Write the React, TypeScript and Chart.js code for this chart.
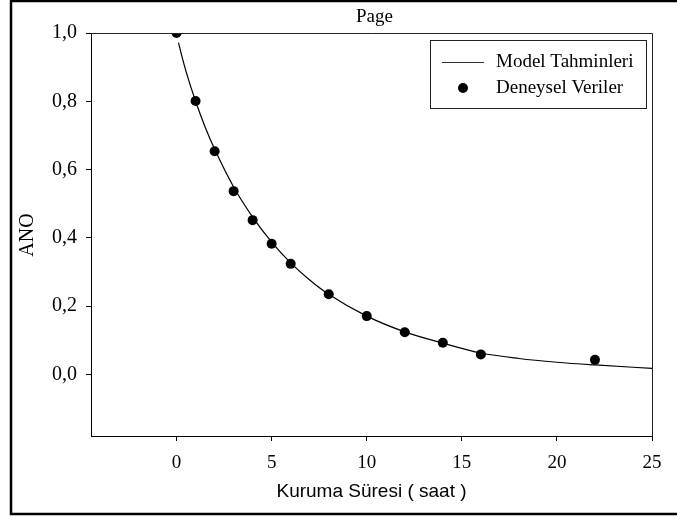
import React, { useEffect, useRef } from "react";
import { Chart, registerables } from "chart.js";

Chart.register(...registerables);

const dryingTimes = [0, 1, 2, 3, 4, 5, 6, 8, 10, 12, 14, 16, 22];
const experimentalANO = [1.0, 0.801, 0.654, 0.537, 0.452, 0.383, 0.324, 0.235, 0.171, 0.124, 0.093, 0.059, 0.043];
const modelTimes = [0.1, 0.25, 0.5, 1, 1.5, 2, 3, 4, 5, 6, 7, 8, 10, 12, 14, 16, 18, 20, 22, 25];
const modelANO = [0.972, 0.938, 0.887, 0.8, 0.725, 0.66, 0.549, 0.461, 0.388, 0.327, 0.277, 0.235, 0.171, 0.125, 0.092, 0.063, 0.047, 0.036, 0.028, 0.018];
const xTickValues = [0, 5, 10, 15, 20, 25];
const yTickValues = [0, 0.2, 0.4, 0.6, 0.8, 1.0];
const seriesLabels = ["Model Tahminleri", "Deneysel Veriler"];
const chartTitle = "Page";
const xAxisTitle = "Kuruma Süresi ( saat )";
const yAxisTitle = "ANO";

const SERIF = "'Liberation Serif', 'Times New Roman', serif";
const SANS = "'Liberation Sans', Arial, sans-serif";

const decorPlugin = {
  id: "decor",
  afterDraw(chart: any) {
    const ctx = chart.ctx;
    const a = chart.chartArea;
    ctx.save();
    // outer frame (left, top, bottom)
    ctx.strokeStyle = "#000";
    ctx.lineWidth = 2.5;
    ctx.beginPath();
    ctx.moveTo(677, 1);
    ctx.lineTo(11, 1);
    ctx.lineTo(11, 514);
    ctx.lineTo(677, 514);
    ctx.stroke();
    // top and right borders of plot box
    ctx.lineWidth = 1;
    ctx.strokeStyle = "#222";
    ctx.beginPath();
    ctx.moveTo(a.left, a.top + 0.5);
    ctx.lineTo(a.right + 0.5, a.top + 0.5);
    ctx.lineTo(a.right + 0.5, a.bottom);
    ctx.stroke();
    // title
    ctx.fillStyle = "#000";
    ctx.font = `19px ${SERIF}`;
    ctx.textAlign = "center";
    ctx.textBaseline = "middle";
    ctx.fillText(chartTitle, (a.left + a.right) / 2 + 3, 17);
    // x axis title
    ctx.font = `19px ${SANS}`;
    ctx.fillText(xAxisTitle, (a.left + a.right) / 2, 492);
    // y axis title
    ctx.save();
    ctx.translate(28, 235);
    ctx.rotate(-Math.PI / 2);
    ctx.font = `20px ${SERIF}`;
    ctx.fillText(yAxisTitle, 0, 0);
    ctx.restore();
    // legend
    const bx = 430.5, by = 40.5, bw = 216, bh = 68;
    ctx.strokeStyle = "#222";
    ctx.lineWidth = 1;
    ctx.strokeRect(bx, by, bw, bh);
    const ds = chart.data.datasets;
    ctx.font = `19px ${SERIF}`;
    ctx.textAlign = "left";
    // line entry
    ctx.strokeStyle = "#333";
    ctx.beginPath();
    ctx.moveTo(442, 62.5);
    ctx.lineTo(484, 62.5);
    ctx.stroke();
    ctx.fillText(ds[0].label, 496, 62);
    // point entry
    ctx.beginPath();
    ctx.arc(463, 88, 5, 0, Math.PI * 2);
    ctx.fill();
    ctx.fillText(ds[1].label, 496, 88);
    ctx.restore();
  },
};

export default function App() {
  const ref = useRef<HTMLCanvasElement | null>(null);
  useEffect(() => {
    if (!ref.current) return;
    const fmt = (v: number) => v.toFixed(1).replace(".", ",");
    const chart = new Chart(ref.current, {
      type: "scatter",
      data: {
        datasets: [
          {
            label: seriesLabels[0],
            type: "line",
            data: modelTimes.map((t, i) => ({ x: t, y: modelANO[i] })),
            borderColor: "#000",
            borderWidth: 1.2,
            pointRadius: 0,
            fill: false,
            cubicInterpolationMode: "monotone",
          } as any,
          {
            label: seriesLabels[1],
            data: dryingTimes.map((t, i) => ({ x: t, y: experimentalANO[i] })),
            backgroundColor: "#000",
            borderColor: "#000",
            pointRadius: 5,
            pointBorderWidth: 0,
          },
        ],
      },
      options: {
        responsive: false,
        animation: false,
        layout: { padding: { left: 0, top: 33, right: 25, bottom: 0 } },
        plugins: { legend: { display: false }, tooltip: { enabled: false }, title: { display: false } },
        scales: {
          x: {
            type: "linear",
            min: -4.5,
            max: 25,
            afterFit: (s: any) => { s.height = 81; },
            afterBuildTicks: (s: any) => { s.ticks = xTickValues.map((v) => ({ value: v })); },
            grid: { drawOnChartArea: false, drawTicks: true, tickLength: 5, color: "#000" },
            border: { display: true, color: "#000", width: 1 },
            ticks: { color: "#000", font: { family: SERIF, size: 19 }, padding: 11, maxRotation: 0, callback: (v: any) => String(v) },
          },
          y: {
            type: "linear",
            min: -0.18,
            max: 1.0,
            afterFit: (s: any) => { s.width = 91; },
            afterBuildTicks: (s: any) => { s.ticks = yTickValues.map((v) => ({ value: v })); },
            grid: { drawOnChartArea: false, drawTicks: true, tickLength: 5, color: "#000" },
            border: { display: true, color: "#000", width: 1 },
            ticks: { color: "#000", font: { family: SERIF, size: 20 }, padding: 9, callback: (v: any) => fmt(Number(v)) },
          },
        },
      } as any,
      plugins: [decorPlugin],
    });
    return () => chart.destroy();
  }, []);
  return (
    <div style={{ position: "absolute", left: 0, top: 0, width: 677, height: 517, background: "#fff" }}>
      <canvas ref={ref} width={677} height={517} style={{ display: "block" }} />
    </div>
  );
}
